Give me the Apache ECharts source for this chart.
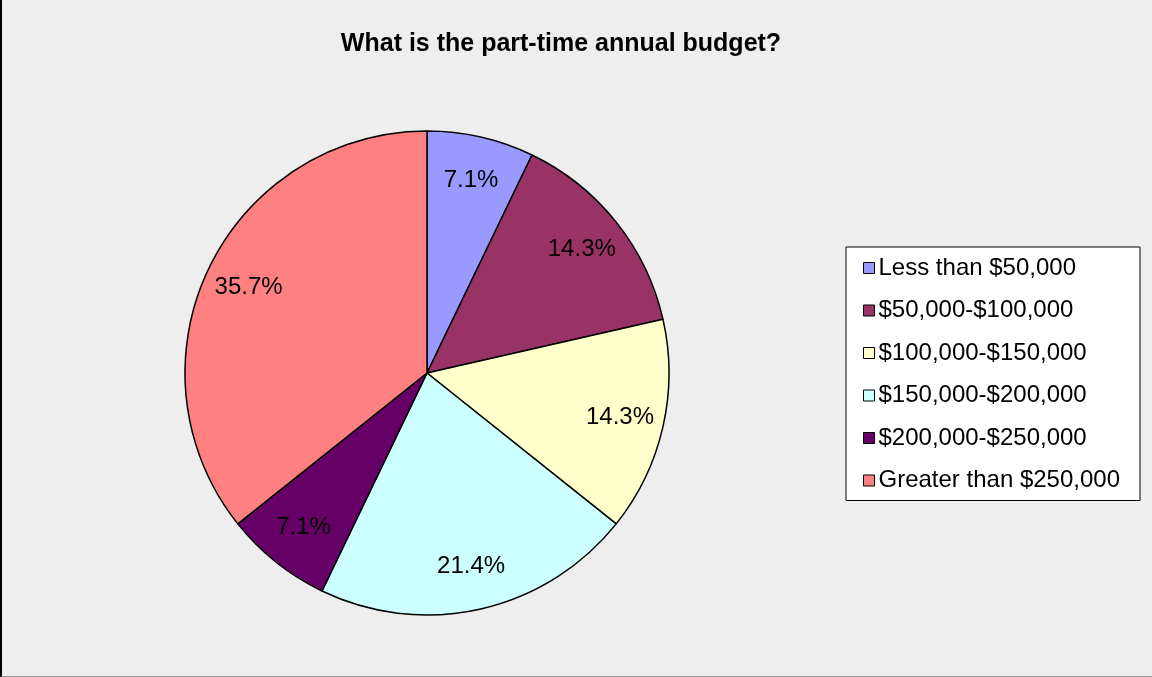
<!DOCTYPE html>
<html>
<head>
<meta charset="utf-8">
<title>What is the part-time annual budget?</title>
<script src="https://cdn.jsdelivr.net/npm/echarts@6/dist/echarts.min.js"></script>
<style>
    html, body { margin: 0; padding: 0; background: #eeeeee; }
    #budget {
        width: 1150px;
        height: 676px;
        border-left: 2px solid #000;
        border-bottom: 1px solid #999;
        background: #eeeeee;
    }
</style>
</head>
<body>
<div id="budget"></div>
<script>
    // responses per budget band (shares)
    const categories = ['Less than $50,000', '$50,000-$100,000', '$100,000-$150,000',
        '$150,000-$200,000', '$200,000-$250,000', 'Greater than $250,000'];
    const counts = [1, 2, 2, 3, 1, 5];
    const colors = ['#9999ff', '#993366', '#ffffcc', '#ccffff', '#660066', '#ff8080'];

    const total = counts.reduce((a, b) => a + b, 0);
    const pieData = categories.map((name, i) => ({value: counts[i], name: name}));
    const font = '"Liberation Sans", Arial, sans-serif';

    let chart = echarts.init(document.getElementById('budget'));
    chart.setOption({
        animation: false,
        backgroundColor: '#eeeeee',
        color: colors,
        title: {
            text: 'What is the part-time annual budget?',
            left: 554,
            textAlign: 'center',
            top: 27,
            textStyle: {
                fontFamily: font,
                fontWeight: 'bold',
                fontSize: 25,
                color: '#000'
            }
        },
        legend: {
            orient: 'vertical',
            left: 844,
            top: 247,
            backgroundColor: '#fff',
            borderColor: '#000',
            borderWidth: 1,
            padding: [9, 20, 8, 17],
            itemWidth: 11,
            itemHeight: 11,
            itemGap: 18.5,
            icon: 'rect',
            itemStyle: {borderColor: '#000', borderWidth: 1},
            textStyle: {
                fontFamily: font,
                fontSize: 24,
                color: '#000',
                padding: [0, 0, 0, -1]
            },
            data: categories
        },
        series: [
            {
                name: 'budget',
                type: 'pie',
                center: [425, 373],
                radius: 242,
                startAngle: 90,
                clockwise: true,
                label: {show: false},
                labelLine: {show: false},
                itemStyle: {borderColor: '#000', borderWidth: 1.5},
                emphasis: {disabled: true},
                data: pieData
            },
            {
                // transparent ring only used to place the percentage labels near the rim
                name: 'labels',
                type: 'pie',
                center: [425, 373],
                radius: [148, 242],
                startAngle: 90,
                clockwise: true,
                silent: true,
                legendHoverLink: false,
                itemStyle: {color: 'rgba(0,0,0,0)', borderWidth: 0},
                label: {
                    show: true,
                    position: 'inside',
                    formatter: p => (p.value / total * 100).toFixed(1) + '%',
                    fontFamily: font,
                    fontSize: 24,
                    color: '#000'
                },
                labelLine: {show: false},
                emphasis: {disabled: true},
                data: pieData
            }
        ]
    });
</script>
</body>
</html>
